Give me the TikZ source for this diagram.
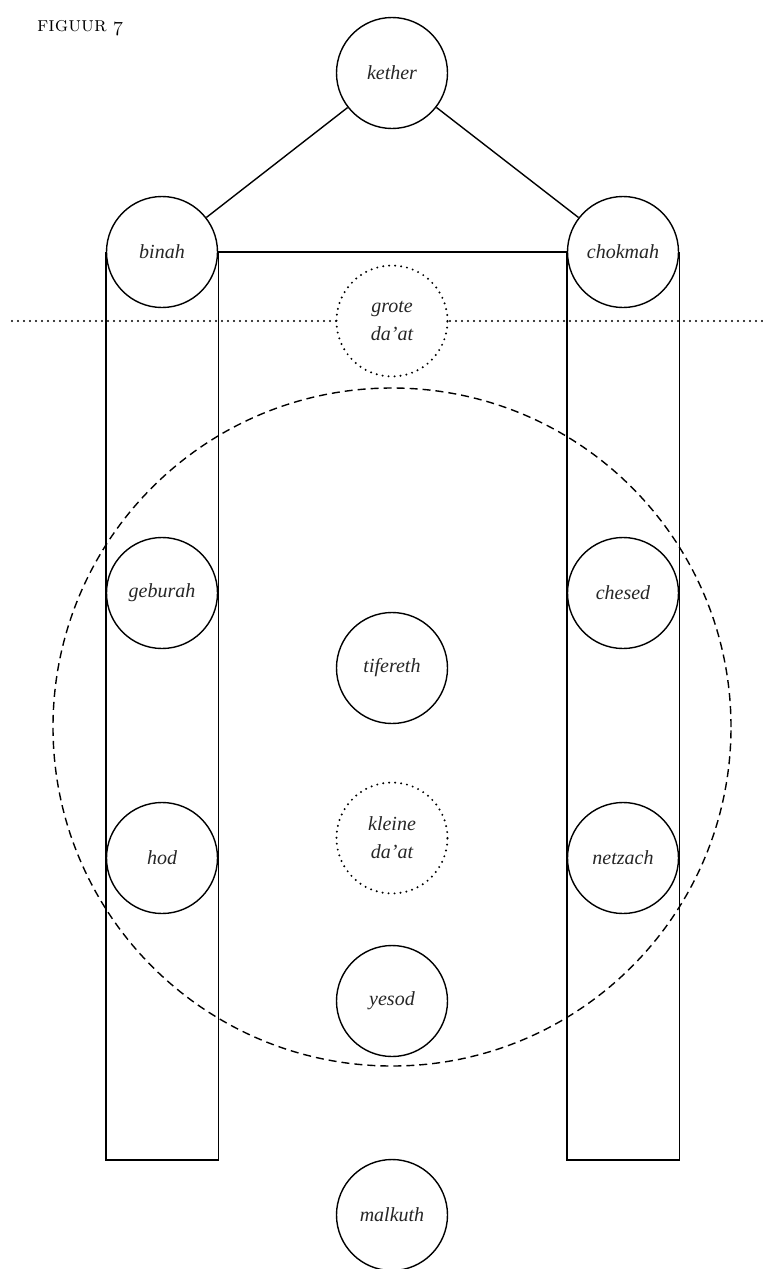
\documentclass[tikz,border=0pt]{standalone}
\usepackage{fontspec}
\newfontfamily\sefont{Liberation Serif}
\usetikzlibrary{backgrounds}
\begin{document}
\begin{tikzpicture}[x=1pt,y=-1pt,
  sef/.style={circle,draw,fill=white,line width=1.4pt,minimum size=111pt,inner sep=0pt,
    font=\sefont\fontsize{20}{28}\selectfont\itshape,align=center,text=black!85},
  dotsef/.style={sef,draw=none},
  dotline/.style={line width=2.2pt,line cap=round,dash pattern=on 0pt off 6pt},
  dashline/.style={line width=1.4pt,dash pattern=on 8pt off 5pt},
  solid/.style={line width=1.4pt}]
\useasboundingbox (0,0) rectangle (763,1269);
\node[anchor=base west,font=\fontsize{21}{24}\selectfont,inner sep=0pt] (title) at (37,31) {\textsc{figuur} {\usefont{OML}{cmm}{m}{it}7}};
\node[sef] (kether) at (392,73) {kether};
\node[sef] (binah) at (162,252) {binah};
\node[sef] (chokmah) at (623,252) {chokmah};
\node[dotsef] (grote) at (392,321) {grote\\da’at};
\node[sef] (geburah) at (162,593) {geburah};
\node[sef] (chesed) at (623,593) {chesed};
\node[sef] (tifereth) at (392,668) {tifereth};
\node[sef] (hod) at (162,858) {hod};
\node[sef] (netzach) at (623,858) {netzach};
\node[dotsef] (kleine) at (392,838) {kleine\\da’at};
\node[sef] (yesod) at (392,1001) {yesod};
\node[sef] (malkuth) at (392,1215) {malkuth};
\coordinate (lbot) at (162,1160);
\coordinate (rbot) at (623,1160);
\coordinate (dl) at (12,321);
\coordinate (dr) at (763,321);
\coordinate (dc) at (392,727);
\draw[dotline] (grote) circle (55.5pt);
\draw[dotline] (kleine) circle (55.5pt);
\begin{scope}[on background layer]
\draw[dotline] (dl) -- (dr);
\draw[dashline] (dc) circle (339pt);
\draw[solid] (binah.west) |- (lbot) -| (binah.east);
\draw[solid] (chokmah.west) |- (rbot) -| (chokmah.east);
\end{scope}
\draw[solid] (kether) -- (binah);
\draw[solid] (kether) -- (chokmah);
\draw[solid] (binah.east) -- (chokmah.west);
\end{tikzpicture}
\end{document}
